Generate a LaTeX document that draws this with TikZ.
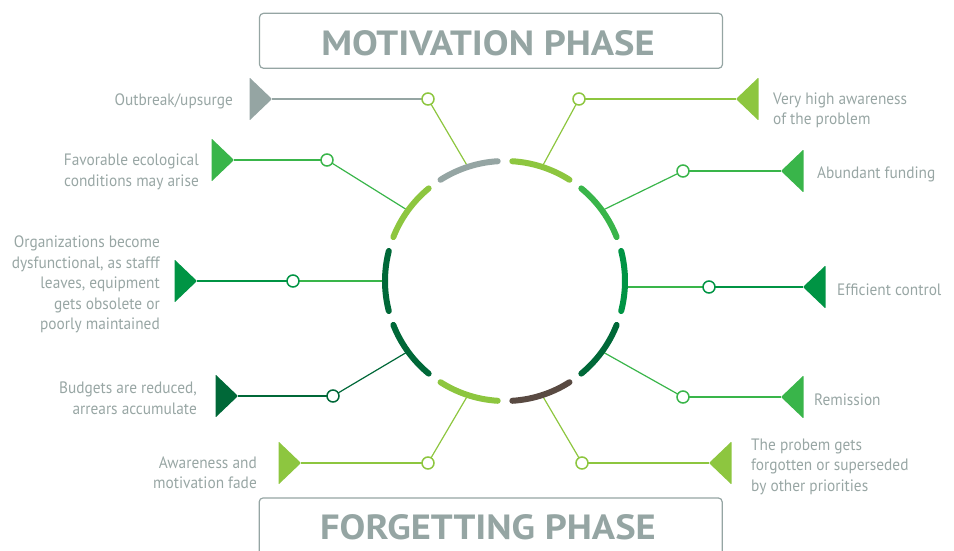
\documentclass[tikz,border=0pt]{standalone}
\usepackage{fontspec}
\setmainfont{PT Sans}[FakeStretch=0.93]
\newfontfamily\titlefont{PT Sans}[FakeStretch=1.1]
\definecolor{lgreen}{HTML}{8DC63F}
\definecolor{green}{HTML}{39B54A}
\definecolor{mgreen}{HTML}{009444}
\definecolor{dgreen}{HTML}{006838}
\definecolor{mgray}{HTML}{95A5A3}
\definecolor{txtgray}{HTML}{98A6A4}
\definecolor{brown}{HTML}{594A42}
\begin{document}
\begin{tikzpicture}[x=1pt,y=-1pt,
  lbl/.style={font=\fontsize{16.5}{20.5}\selectfont, text=txtgray, inner sep=0pt},
  dot/.style={circle, draw=#1, fill=white, line width=1.5pt, minimum size=12pt, inner sep=0pt},
  hl/.style={draw=#1, line width=2pt},
  dl/.style={draw=#1, line width=1.2pt},
  seg/.style={draw=#1, line width=6pt, line cap=round},
  tril/.style={fill=#1, rounded corners=0.8pt},
  phasebox/.style={draw=mgray, line width=1.2pt, rounded corners=4pt, minimum width=463pt, minimum height=55pt, inner sep=0pt},
  phasetxt/.style={font=\titlefont\bfseries\fontsize{35}{35}\selectfont, text=mgray, inner sep=0pt},
]
\useasboundingbox (0,0) rectangle (954,550);
% phase boxes
\node[phasebox] (topbox) at (491,40.8) {};
\node[phasetxt] (toptxt) at (488,43) {MOTIVATION PHASE};
\begin{scope}
\clip (0,0) rectangle (954,550);
\node[phasebox, minimum height=70pt, anchor=north] (botbox) at (490.7,497.3) {};
\end{scope}
\node[phasetxt] (bottxt) at (488,527) {FORGETTING PHASE};

% centre and arc points
\coordinate (C) at (505,281);
\coordinate (a1) at ([shift={(-108:120)}]C);
\coordinate (a2) at ([shift={(-144:120)}]C);
\coordinate (a3) at (385,281);
\coordinate (a4) at ([shift={(-216:120)}]C);
\coordinate (a5) at ([shift={(-252:120)}]C);
\coordinate (a6) at ([shift={(-72:120)}]C);
\coordinate (a7) at ([shift={(-36:120)}]C);
\coordinate (a8) at (625,287);
\coordinate (a9) at ([shift={(36:120)}]C);
\coordinate (a10) at ([shift={(72:120)}]C);

% triangle tips
\coordinate (t1) at (272,99);
\coordinate (t2) at (234,160);
\coordinate (t3) at (197,281);
\coordinate (t4) at (238,396);
\coordinate (t5) at (301,463);
\coordinate (t6) at (736,99);
\coordinate (t7) at (781,171);
\coordinate (t8) at (803,287);
\coordinate (t9) at (781,397);
\coordinate (t10) at (709,463);

% triangles
\fill[tril=mgray] (t1) -- ++(-22.5,-21.5) -- ++(0,43) -- cycle;
\fill[tril=green] (t2) -- ++(-22.5,-21.5) -- ++(0,43) -- cycle;
\fill[tril=mgreen] (t3) -- ++(-22.5,-21.5) -- ++(0,43) -- cycle;
\fill[tril=dgreen] (t4) -- ++(-22.5,-21.5) -- ++(0,43) -- cycle;
\fill[tril=lgreen] (t5) -- ++(-22.5,-21.5) -- ++(0,43) -- cycle;
\fill[tril=lgreen] (t6) -- ++(22.5,-21.5) -- ++(0,43) -- cycle;
\fill[tril=green] (t7) -- ++(22.5,-21.5) -- ++(0,43) -- cycle;
\fill[tril=mgreen] (t8) -- ++(22.5,-21.5) -- ++(0,43) -- cycle;
\fill[tril=green] (t9) -- ++(22.5,-21.5) -- ++(0,43) -- cycle;
\fill[tril=lgreen] (t10) -- ++(22.5,-21.5) -- ++(0,43) -- cycle;

% connectors
\draw[hl=mgray] (t1) -- (428,99);
\draw[dl=lgreen] (428,99) -- (a1);
\draw[hl=green] (t2) -- (327,160);
\draw[dl=green] (327,160) -- (a2);
\draw[hl=mgreen] (t3) -- (293,281);
\draw[dl=green] (293,281) -- (a3);
\draw[hl=dgreen] (t4) -- (333,396);
\draw[dl=dgreen] (333,396) -- (a4);
\draw[hl=lgreen] (t5) -- (428,463);
\draw[dl=lgreen] (428,463) -- (a5);
\draw[hl=lgreen] (t6) -- (579,99);
\draw[dl=lgreen] (579,99) -- (a6);
\draw[hl=green] (t7) -- (683,171);
\draw[dl=green] (683,171) -- (a7);
\draw[hl=mgreen] (t8) -- (709,287);
\draw[dl=green] (709,287) -- (a8);
\draw[hl=green] (t9) -- (683,397);
\draw[dl=green] (683,397) -- (a9);
\draw[hl=lgreen] (t10) -- (582,463);
\draw[dl=lgreen] (582,463) -- (a10);

% dots
\node[dot=lgreen] (c1) at (428,99) {};
\node[dot=green] (c2) at (327,160) {};
\node[dot=mgreen] (c3) at (293,281) {};
\node[dot=dgreen] (c4) at (333,396) {};
\node[dot=lgreen] (c5) at (428,463) {};
\node[dot=lgreen] (c6) at (579,99) {};
\node[dot=green] (c7) at (683,171) {};
\node[dot=mgreen] (c8) at (709,287) {};
\node[dot=green] (c9) at (683,397) {};
\node[dot=lgreen] (c10) at (582,463) {};

% ring segments
\foreach \c/\col in {108/mgray, 72/lgreen, 36/green, 0/mgreen, -36/dgreen, -72/brown, -108/lgreen, -144/dgreen, 180/dgreen, 144/lgreen}{
  \draw[seg=\col] ([shift={(-\c+14.5:120)}]C) arc[start angle=-\c+14.5, end angle=-\c-14.5, radius=120];
}

% labels
\node[lbl, anchor=east, align=right] (l1) at (233,101) {Outbreak/upsurge};
\node[lbl, anchor=east, align=right] (l2) at (199,172) {Favorable ecological\\conditions may arise};
\node[lbl, anchor=east, align=right] (l3) at (160,284.5) {Organizations become\\dysfunctional, as stafff\\leaves, equipment\\gets obsolete or\\poorly maintained};
\node[lbl, anchor=east, align=right] (l4) at (197,398) {Budgets are reduced,\\arrears accumulate};
\node[lbl, anchor=east, align=right] (l5) at (257,472.5) {Awareness and\\motivation fade};
\node[lbl, anchor=west, align=left] (l6) at (773,110.5) {Very high awareness\\of the problem};
\node[lbl, anchor=west, align=left] (l7) at (817,174.5) {Abundant funding};
\node[lbl, anchor=west, align=left] (l8) at (837,289.5) {Efficient control};
\node[lbl, anchor=west, align=left] (l9) at (814,399.5) {Remission};
\node[lbl, anchor=west, align=left] (l10) at (751,466.5) {The probem gets\\forgotten or superseded\\by other priorities};
\end{tikzpicture}
\end{document}
